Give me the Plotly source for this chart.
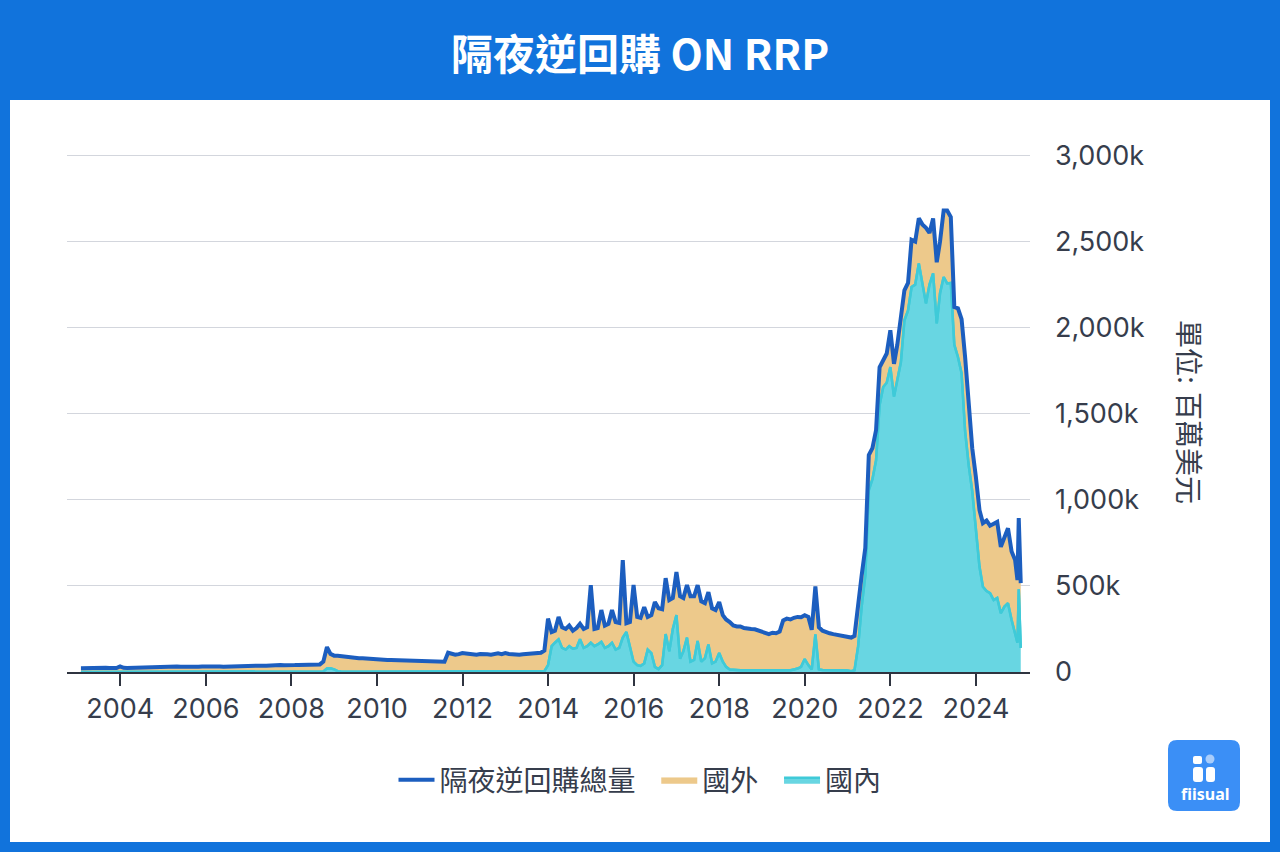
import pandas as pd
import plotly.graph_objects as go

W, H = 1280, 852

# Month-end values, unit: k (= thousand million USD), Jan 2003 .. Nov 2024
total_k = [
    22, 23, 22, 24, 23, 22, 23, 24, 23, 22, 23, 32,            # 2003
    24, 23, 24, 25, 24, 25, 26, 27, 28, 29, 30, 31,            # 2004
    31, 32, 33, 32, 31, 30, 31, 32, 31, 30, 32, 33,            # 2005
    31, 32, 33, 32, 31, 32, 33, 34, 33, 35, 34, 36,            # 2006
    34, 35, 36, 37, 36, 38, 37, 39, 40, 39, 41, 42,            # 2007
    40, 41, 42, 42, 43, 43, 44, 44, 60, 145, 105, 95,          # 2008
    95, 92, 90, 88, 85, 82, 80, 80, 78, 78, 76, 75,            # 2009
    72, 71, 70, 70, 69, 70, 68, 67, 66, 66, 65, 65,            # 2010
    64, 63, 62, 60, 58, 57, 60, 112, 105, 100, 104, 110,       # 2011
    108, 105, 102, 100, 104, 106, 103, 100, 105, 108, 104, 110,  # 2012
    105, 102, 104, 100, 103, 105, 106, 104, 108, 112, 125, 310,  # 2013
    232, 240, 320, 260, 250, 270, 240, 255, 280, 250, 260, 505,  # 2014
    250, 255, 360, 270, 280, 360, 290, 285, 650, 283, 290, 505,  # 2015
    320, 315, 377, 320, 330, 406, 370, 365, 545, 418, 430, 580,  # 2016
    440, 430, 505, 440, 440, 505, 410, 400, 464, 370, 360, 406,  # 2017
    330, 305, 290, 270, 265, 265, 255, 250, 250, 248, 240, 235,  # 2018
    225, 220, 228, 225, 235, 300, 310, 305, 315, 320, 318, 330,  # 2019
    320, 245, 497, 260, 240, 230, 225, 220, 215, 210, 205, 200,  # 2020
    200, 210, 400, 560, 720, 1260, 1300, 1405, 1770, 1810, 1850, 1985,   # 2021
    1790, 1900, 2050, 2217, 2260, 2510, 2500, 2635, 2600, 2580, 2550, 2635,  # 2022
    2380, 2500, 2680, 2680, 2642, 2120, 2112, 2050, 1830, 1540, 1300, 1133,  # 2023
    940, 865, 880, 850, 860, 872, 727, 780, 835, 700, 650,    # 2024 Jan-Nov
]
domestic_k = [
    0, 0, 0, 0, 0, 0, 0, 0, 0, 0, 0, 0,                        # 2003
    0, 0, 0, 0, 0, 0, 0, 0, 0, 0, 0, 0,                        # 2004
    2, 2, 2, 2, 2, 2, 2, 2, 2, 2, 2, 2,                        # 2005
    3, 3, 3, 3, 3, 3, 3, 3, 3, 3, 3, 3,                        # 2006
    3, 3, 3, 3, 3, 3, 3, 3, 3, 3, 3, 3,                        # 2007
    3, 3, 3, 3, 3, 3, 3, 3, 3, 20, 22, 15,                     # 2008
    5, 3, 2, 2, 2, 2, 2, 2, 2, 2, 2, 2,                        # 2009
    2, 2, 2, 2, 2, 2, 2, 2, 2, 2, 2, 2,                        # 2010
    2, 2, 2, 2, 2, 2, 2, 3, 3, 3, 3, 3,                        # 2011
    3, 3, 3, 3, 3, 3, 3, 3, 3, 3, 3, 3,                        # 2012
    3, 3, 3, 3, 3, 3, 3, 3, 3, 3, 5, 40,                       # 2013
    150, 170, 190, 140, 130, 150, 135, 140, 190, 140, 150, 170,  # 2014
    150, 160, 175, 140, 150, 170, 130, 140, 200, 232, 150, 60,   # 2015
    40, 35, 50, 130, 110, 30, 17, 40, 220, 120, 250, 330,        # 2016
    77, 120, 200, 60, 70, 180, 60, 80, 160, 50, 60, 110,         # 2017
    60, 30, 15, 12, 10, 10, 10, 10, 10, 10, 10, 10,              # 2018
    10, 10, 10, 10, 10, 10, 10, 10, 15, 20, 30, 75,              # 2019
    40, 15, 218, 15, 12, 10, 10, 10, 10, 10, 8, 8,               # 2020
    5, 10, 150, 380, 560, 1056, 1120, 1230, 1550, 1655, 1680, 1771,      # 2021
    1600, 1700, 1800, 2043, 2100, 2236, 2250, 2373, 2250, 2141, 2250, 2315,  # 2022
    2025, 2200, 2294, 2257, 2260, 1900, 1830, 1735, 1400, 1200, 1050, 806,   # 2023
    611, 495, 470, 458, 418, 430, 342, 380, 400, 302, 226,       # 2024 Jan-Nov
]
# last few observations (year-end spike)
tail_dates = ["2024-12-20", "2024-12-31", "2025-01-17"]
tail_total_k = [534, 894, 516]
tail_domestic_k = [170, 480, 140]

series_names = ["隔夜逆回購總量", "國外", "國內"]
year_ticks = ["2004", "2006", "2008", "2010", "2012", "2014", "2016",
              "2018", "2020", "2022", "2024"]
y_tick_vals = [0, 500, 1000, 1500, 2000, 2500, 3000]
y_tick_text = ["0", "500k", "1,000k", "1,500k", "2,000k", "2,500k", "3,000k"]

dates = list(pd.date_range("2003-01-31", "2024-11-30", freq="ME")) + [pd.Timestamp(d) for d in tail_dates]
total = total_k + tail_total_k
domestic = domestic_k + tail_domestic_k
foreign = [max(t - d, 0) for t, d in zip(total, domestic)]

BLUE_BG = "#1173dc"
LINE_BLUE = "#1c5ebf"
TAN = "#edc98b"
CYAN_FILL = "#68d6e2"
CYAN_LINE = "#3fcad8"
TXT = "#363d4c"
GRID = "#d3d6dd"
FONT = "Inter, 'Noto Sans CJK TC', sans-serif"
PAD = "\u00a0\u00a0"


def px(x):
    return x / W


def py(y):
    return 1 - y / H


def rrect(x0, y0, x1, y1, r):
    rx, ry = r / W, r / H
    X0, X1 = px(x0), px(x1)
    Y0, Y1 = py(y0), py(y1)  # Y0 top (larger), Y1 bottom
    return (f"M {X0+rx},{Y0} L {X1-rx},{Y0} Q {X1},{Y0} {X1},{Y0-ry} "
            f"L {X1},{Y1+ry} Q {X1},{Y1} {X1-rx},{Y1} L {X0+rx},{Y1} "
            f"Q {X0},{Y1} {X0},{Y1+ry} L {X0},{Y0-ry} Q {X0},{Y0} {X0+rx},{Y0} Z")


fig = go.Figure()
fig.add_trace(go.Scatter(x=dates, y=domestic, name=series_names[2], stackgroup="rrp", mode="lines",
                         line=dict(color=CYAN_LINE, width=2.5), fillcolor=CYAN_FILL,
                         legendrank=3))
fig.add_trace(go.Scatter(x=dates, y=foreign, name=series_names[1] + PAD, stackgroup="rrp",
                         mode="lines", line=dict(color=TAN, width=0.5), fillcolor=TAN,
                         legendrank=2))
fig.add_trace(go.Scatter(x=dates, y=domestic, mode="lines", showlegend=False,
                         line=dict(color=CYAN_LINE, width=2.5), hoverinfo="skip"))
fig.add_trace(go.Scatter(x=dates, y=total, name=series_names[0] + PAD, mode="lines",
                         line=dict(color=LINE_BLUE, width=4), legendrank=1))

shapes = [
    dict(type="rect", xref="paper", yref="paper", x0=px(10), x1=px(1270), y0=py(842), y1=py(100),
         fillcolor="white", line=dict(width=0), layer="below"),
    # top gridline (3,000k)
    dict(type="line", xref="x domain", yref="y", x0=0, x1=1, y0=y_tick_vals[-1], y1=y_tick_vals[-1],
         line=dict(color=GRID, width=1), layer="below"),
    # logo
    dict(type="path", xref="paper", yref="paper", path=rrect(1168, 740, 1240, 811, 9),
         fillcolor="#3b8ff6", line=dict(width=0), layer="above"),
    dict(type="path", xref="paper", yref="paper", path=rrect(1193, 756, 1202, 764, 2),
         fillcolor="white", line=dict(width=0), layer="above"),
    dict(type="path", xref="paper", yref="paper", path=rrect(1193, 767, 1203, 782, 3),
         fillcolor="white", line=dict(width=0), layer="above"),
    dict(type="path", xref="paper", yref="paper", path=rrect(1206, 767, 1215, 782, 3),
         fillcolor="white", line=dict(width=0), layer="above"),
    dict(type="circle", xref="paper", yref="paper", x0=px(1205.5), x1=px(1214.5),
         y0=py(763.5), y1=py(754.5), fillcolor="#a9cdfb", line=dict(width=0), layer="above"),
]

annotations = [
    dict(text="<b>隔夜逆回購 ON RRP</b>", x=0.5, y=py(52), xref="paper", yref="paper",
         showarrow=False, xanchor="center", yanchor="middle",
         font=dict(family="'Noto Sans CJK TC', sans-serif", size=42, color="white")),
    dict(text="單位: 百萬美元", x=px(1188), y=py(412), xref="paper", yref="paper",
         showarrow=False, textangle=90, xanchor="center", yanchor="middle",
         font=dict(family=FONT, size=28, color=TXT)),
    dict(text="<b>fiisual</b>", x=px(1205), y=py(794), xref="paper", yref="paper",
         showarrow=False, xanchor="center", yanchor="middle",
         font=dict(family="'Noto Sans', sans-serif", size=16, color="white")),
]

fig.update_layout(
    width=W, height=H, margin=dict(l=0, r=0, t=0, b=0, autoexpand=False),
    paper_bgcolor=BLUE_BG, plot_bgcolor="rgba(0,0,0,0)",
    font=dict(family=FONT, color=TXT),
    shapes=shapes, annotations=annotations,
    showlegend=True,
    legend=dict(orientation="h", x=0.5, xanchor="center", y=py(780), yanchor="middle",
                traceorder="normal",
                font=dict(size=28, color=TXT), bgcolor="rgba(0,0,0,0)", itemwidth=36),
    xaxis=dict(domain=[px(67), px(1030)], type="date",
               range=["2002-10-04", "2025-04-06"],
               tickvals=[f"{y}-01-01" for y in year_ticks], ticktext=year_ticks,
               showgrid=False, zeroline=False, showline=True, linecolor="#2f3440", linewidth=1.5,
               ticks="outside", ticklen=12, tickwidth=1.5, tickcolor="#2f3440",
               tickfont=dict(size=27, color=TXT), anchor="y", automargin=False),
    yaxis=dict(domain=[py(672), py(155)], range=[0, 3003], side="right",
               tickvals=y_tick_vals, ticktext=y_tick_text,
               showgrid=True, gridcolor=GRID, gridwidth=1, zeroline=False,
               showline=False, ticks="", ticklabelstandoff=24,
               tickfont=dict(size=27, color=TXT), anchor="x", automargin=False),
    hovermode="x unified",
)

fig.write_html("out.html", config={"displayModeBar": False},
               post_script="document.body.style.margin='0';document.body.style.overflow='hidden';")
